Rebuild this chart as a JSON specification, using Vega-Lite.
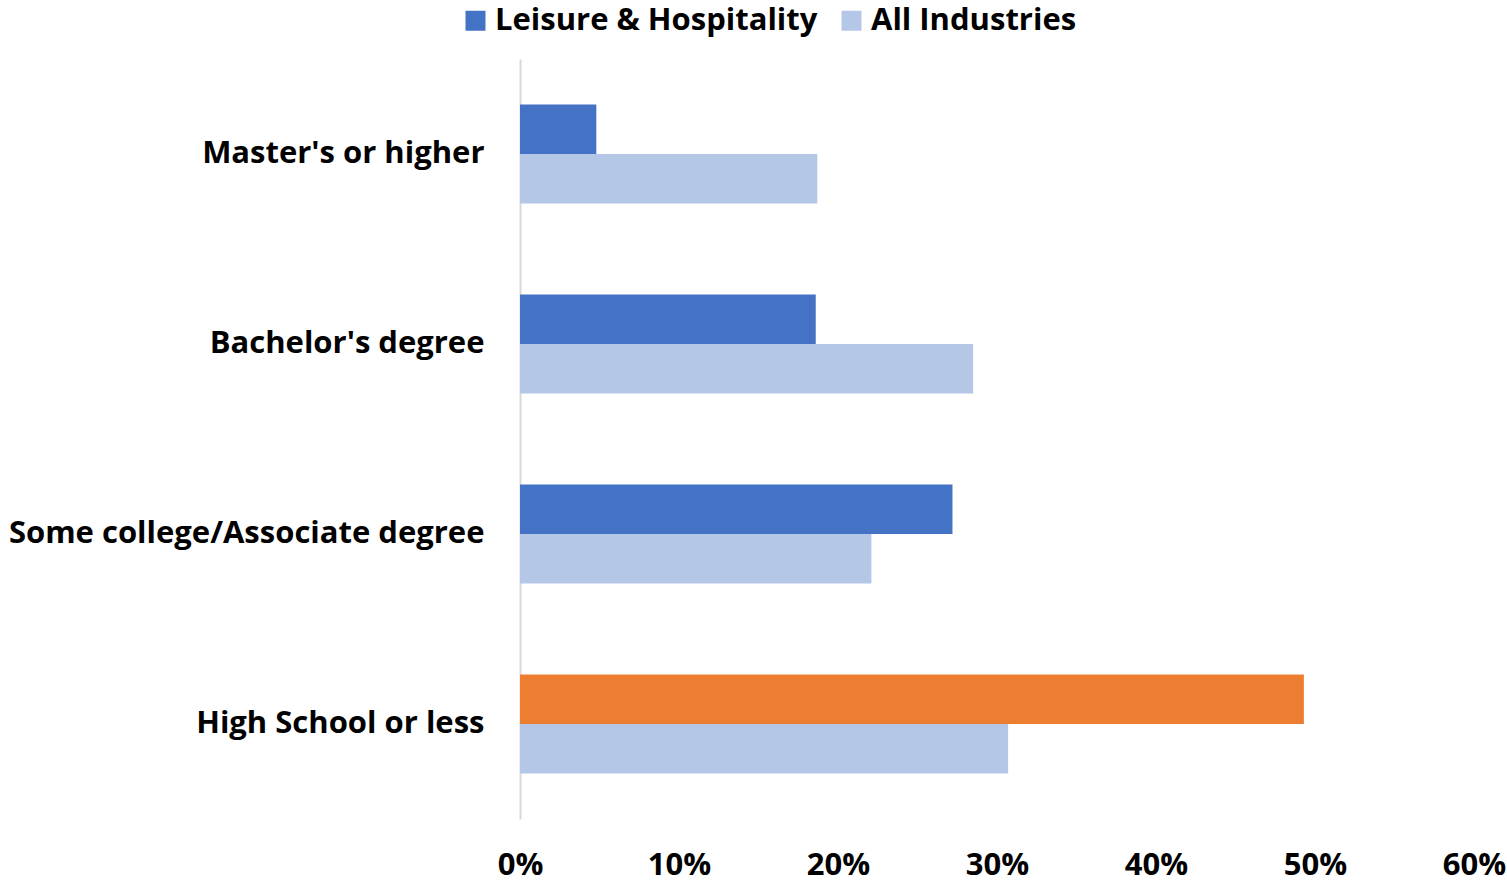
{
  "$schema": "https://vega.github.io/schema/vega-lite/v6.json",
  "autosize": "none",
  "padding": {"left": 520, "top": 59, "right": 33, "bottom": 63},
  "width": 954,
  "height": 760,
  "background": "white",
  "config": {
    "view": {"stroke": null},
    "font": "Open Sans",
    "axis": {"labelFont": "Open Sans", "labelFontWeight": "bold", "labelColor": "#000000", "labelFontSize": 31}
  },
  "data": {
    "values": [
      {"category": "Master's or higher", "series": "Leisure & Hospitality", "value": 0.048},
      {"category": "Master's or higher", "series": "All Industries", "value": 0.187},
      {"category": "Bachelor's degree", "series": "Leisure & Hospitality", "value": 0.186},
      {"category": "Bachelor's degree", "series": "All Industries", "value": 0.285},
      {"category": "Some college/Associate degree", "series": "Leisure & Hospitality", "value": 0.272},
      {"category": "Some college/Associate degree", "series": "All Industries", "value": 0.221},
      {"category": "High School or less", "series": "Leisure & Hospitality", "value": 0.493},
      {"category": "High School or less", "series": "All Industries", "value": 0.307}
    ]
  },
  "mark": {"type": "bar"},
  "encoding": {
    "y": {
      "field": "category",
      "type": "nominal",
      "sort": ["Master's or higher", "Bachelor's degree", "Some college/Associate degree", "High School or less"],
      "scale": {"paddingInner": 0.479, "paddingOuter": 0.2395},
      "axis": {"title": null, "ticks": false, "domainColor": "#D9D9D9", "domainWidth": 2, "labelPadding": 36, "labelLimit": 600}
    },
    "yOffset": {
      "field": "series",
      "type": "nominal",
      "sort": ["Leisure & Hospitality", "All Industries"],
      "scale": {"paddingInner": 0, "paddingOuter": 0}
    },
    "x": {
      "field": "value",
      "type": "quantitative",
      "scale": {"domain": [0, 0.6], "nice": false},
      "axis": {"title": null, "format": ".0%", "values": [0, 0.1, 0.2, 0.3, 0.4, 0.5, 0.6], "grid": false, "ticks": false, "domain": false, "labelPadding": 31, "labelFlush": false}
    },
    "color": {
      "condition": {"test": "datum.category === 'High School or less' && datum.series === 'Leisure & Hospitality'", "value": "#ED7D31"},
      "field": "series",
      "type": "nominal",
      "sort": ["Leisure & Hospitality", "All Industries"],
      "scale": {"domain": ["Leisure & Hospitality", "All Industries"], "range": ["#4472C4", "#B4C7E7"]},
      "legend": {
        "title": null,
        "orient": "none",
        "direction": "horizontal",
        "legendX": -60,
        "legendY": -54,
        "symbolType": "square",
        "symbolSize": 400,
        "symbolStrokeWidth": 0,
        "labelFont": "Open Sans",
        "labelFontWeight": "bold",
        "labelFontSize": 31,
        "labelColor": "#000000",
        "labelOffset": 4,
        "columnPadding": 18,
        "labelLimit": 600
      }
    }
  }
}
